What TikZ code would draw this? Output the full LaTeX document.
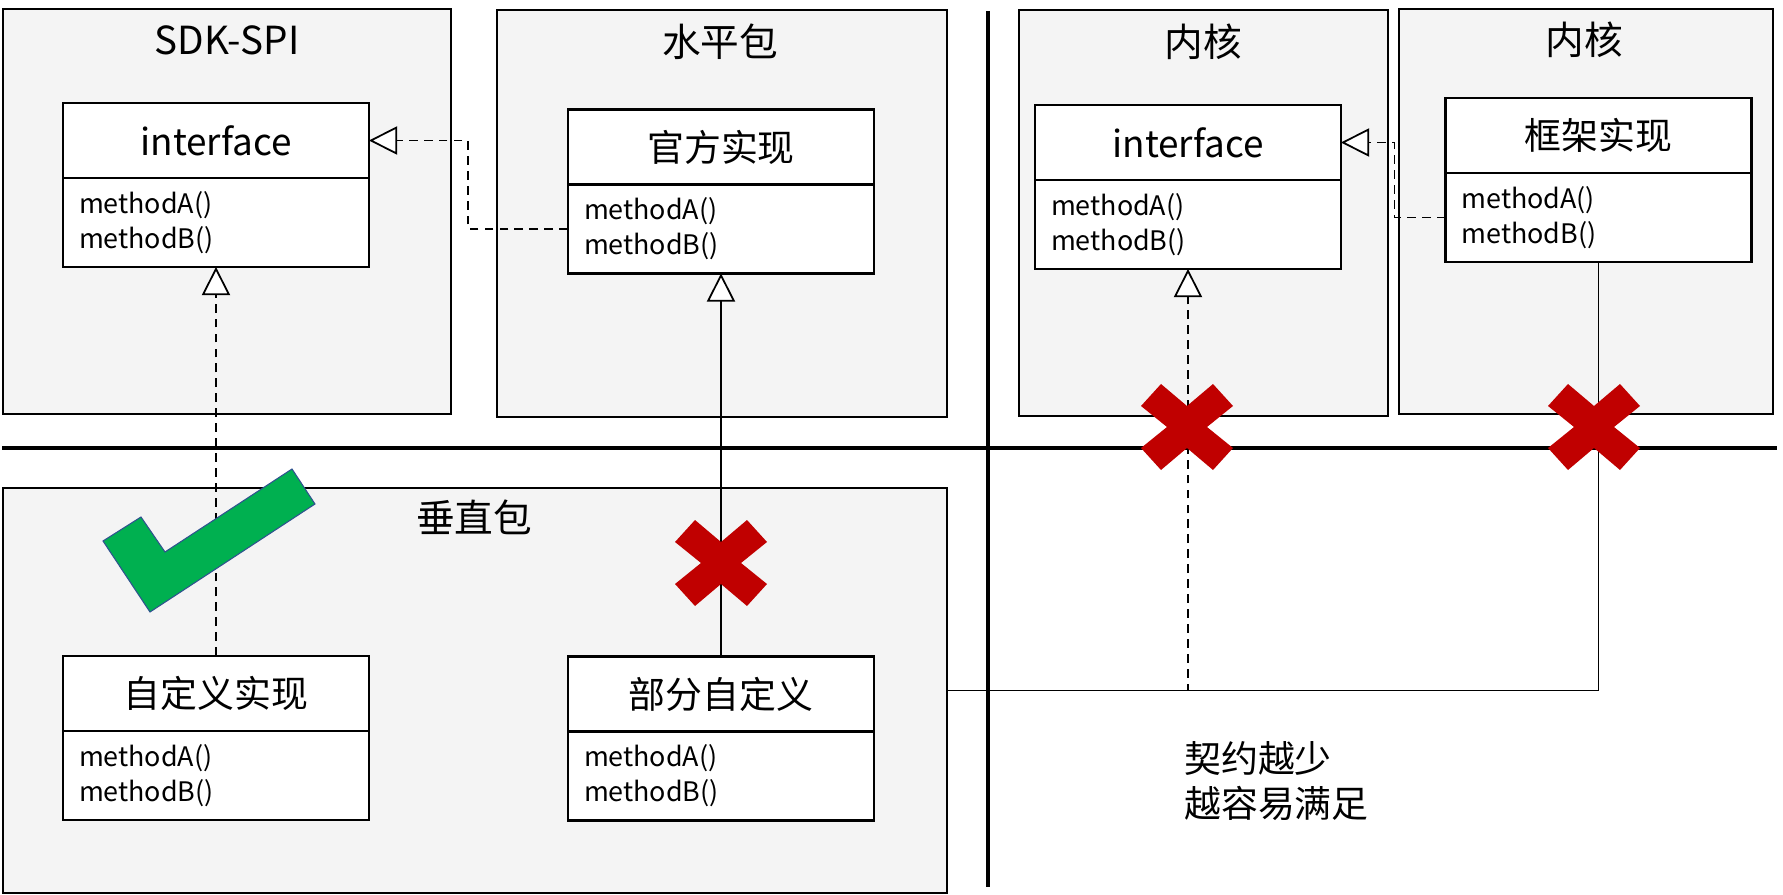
\documentclass[tikz,border=0pt]{standalone}
\usepackage{fontspec}
\setmainfont{Noto Sans CJK SC}
\usetikzlibrary{arrows.meta,positioning,fit}
\definecolor{pkgbg}{HTML}{F4F4F4}
\definecolor{goodg}{HTML}{00B050}
\definecolor{goodb}{HTML}{2F528F}
\definecolor{badr}{HTML}{C00000}

\begin{document}
\begin{tikzpicture}[x=0.02cm, y=-0.02cm,
  pkg/.style={draw, line width=1.6pt, fill=pkgbg, inner sep=0pt, outer sep=0pt},
  ttl/.style={font=\fontsize{22}{26}\selectfont},
  hd/.style={draw, fill=white, line width=1.3pt, outer sep=0pt, minimum width=6.12cm, minimum height=1.5cm, font=\fontsize{21}{24}\selectfont},
  bd/.style={draw, fill=white, line width=1.3pt, outer sep=0pt, minimum width=6.12cm, minimum height=1.78cm, inner xsep=0.32cm, text width=5.48cm, align=left, font=\fontsize{15.3}{20}\selectfont},
  impl/.style={line width=1pt, dash pattern=on 5pt off 3.5pt, -{Triangle[open, fill=white, length=16pt, width=16pt]}},
  ext/.style={line width=1pt, -{Triangle[open, fill=white, length=16pt, width=16pt]}},
  assoc/.style={line width=1pt},
  sep/.style={line width=2.6pt},
]
  \useasboundingbox (0,0) rectangle (1783,895);
  % --- packages ---
  \node[pkg, fit={(3,9) (451,414)}] (sdk) {};
  \node[pkg, fit={(497,10) (947,417)}] (hor) {};
  \node[pkg, fit={(1019,10) (1388,416)}] (core1) {};
  \node[pkg, fit={(1399,9) (1773,414)}] (core2) {};
  \node[pkg, fit={(3,488) (947,893)}] (vert) {};
  \node[ttl] (sdkt) at (227,40) {SDK-SPI};
  \node[ttl] (hort) at (720,42) {水平包};
  \node[ttl] (core1t) at (1203,42) {内核};
  \node[ttl] (core2t) at (1584,40) {内核};
  \node[ttl] (vertt) at (474,517) {垂直包};
  % --- separators ---
  \draw[sep] (988,11) -- (988,887);
  \draw[sep] (2,448) -- (1777,448);
  % --- classes ---
  \node[hd] (iface1) at (216,140.5) {interface};
  \node[bd, below=0pt of iface1] (iface1b) {methodA()\\methodB()};
  \node[hd] (gf) at (721,147) {官方实现};
  \node[bd, below=0pt of gf] (gfb) {methodA()\\methodB()};
  \node[hd] (iface2) at (1188,142.5) {interface};
  \node[bd, below=0pt of iface2] (iface2b) {methodA()\\methodB()};
  \node[hd] (kj) at (1598.5,135.5) {框架实现};
  \node[bd, below=0pt of kj] (kjb) {methodA()\\methodB()};
  \node[hd] (zdy) at (216,693.5) {自定义实现};
  \node[bd, below=0pt of zdy] (zdyb) {methodA()\\methodB()};
  \node[hd] (bf) at (721,694) {部分自定义};
  \node[bd, below=0pt of bf] (bfb) {methodA()\\methodB()};
  % --- connectors ---
  \draw[impl] (gfb.west) -- ++(-100,0) |- (iface1.east);
  \draw[impl] (kjb.west) -- ++(-51,0) |- (iface2.east);
  \draw[impl] (zdy.north) -- (iface1b.south);
  \draw[ext] (bf.north) -- (gfb.south);
  \draw[assoc] (vert.east) -| (kjb.south);
  \draw[impl] (vert.east) -| (iface2b.south);
  % --- marks ---
  \filldraw[fill=goodg, draw=goodb, line width=0.6pt] (103,541) -- (141,517) -- (165,552) -- (292,469) -- (315,504) -- (150,612) -- cycle;
  \foreach \c in {(721,563),(1187,427),(1594,427)}
    \fill[badr, shift={\c}] (-26,-43) -- (0,-21) -- (26,-43) -- (46,-21) -- (20,0) -- (46,21) -- (26,43) -- (0,21) -- (-26,43) -- (-46,21) -- (-20,0) -- (-46,-21) -- cycle;
  \node[anchor=west, align=left, font=\fontsize{21}{26}\selectfont] (note) at (1178,781) {契约越少\\越容易满足};
\end{tikzpicture}
\end{document}
